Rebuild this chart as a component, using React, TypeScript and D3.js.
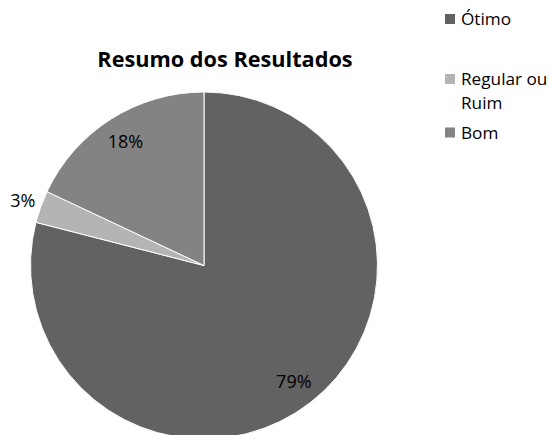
import { useEffect, useRef } from 'react';
import * as d3 from 'd3';

const categories = ['Ótimo', 'Regular ou Ruim', 'Bom'];
const values = [79, 3, 18];
const labels = ['79%', '3%', '18%'];
const legendLines = [['Ótimo'], ['Regular ou', 'Ruim'], ['Bom']];
const COLORS = ['#626262', '#b4b4b4', '#838383'];

const W = 555;
const H = 435;
const FONT = '"Open Sans", "Noto Sans", sans-serif';

export default function App() {
  const svgRef = useRef<SVGSVGElement>(null);

  useEffect(() => {
    if (!svgRef.current) return;
    const svg = d3.select(svgRef.current);
    svg.selectAll('*').remove();

    const cx = 204, cy = 265.5, R = 173.5;
    const g = svg.append('g').attr('transform', `translate(${cx},${cy})`);

    const data = categories.map((c, i) => ({ name: c, value: values[i], label: labels[i], color: COLORS[i] }));
    const pie = d3.pie<any>().sort(null).value(d => d.value);
    const arcs = pie(data);
    const arc = d3.arc<any>().innerRadius(0).outerRadius(R);

    g.selectAll('path.slice')
      .data(arcs)
      .enter().append('path')
      .attr('class', 'slice')
      .attr('d', arc)
      .attr('fill', d => d.data.color)
      .attr('stroke', '#ffffff')
      .attr('stroke-width', 1);

    // data labels: inside for big slices, outside for small ones
    g.selectAll('text.lbl')
      .data(arcs)
      .enter().append('text')
      .attr('class', 'lbl')
      .attr('transform', d => {
        const share = (d.endAngle - d.startAngle) / (2 * Math.PI);
        const r = share < 0.05 ? R * 1.11 : R * 0.845;
        const a = (d.startAngle + d.endAngle) / 2;
        return `translate(${Math.sin(a) * r},${-Math.cos(a) * r})`;
      })
      .attr('text-anchor', 'middle')
      .attr('dy', '0.35em')
      .attr('font-family', FONT)
      .attr('font-size', 18)
      .attr('fill', '#000')
      .text(d => d.data.label);

    // title
    svg.append('text')
      .attr('x', 225).attr('y', 67)
      .attr('text-anchor', 'middle')
      .attr('font-family', FONT)
      .attr('font-weight', 700)
      .attr('font-size', 21.7)
      .attr('fill', '#000')
      .text('Resumo dos Resultados');

    // legend
    const legendY = [19, 79, 132.5];
    const lg = svg.append('g');
    legendLines.forEach((lines, i) => {
      lg.append('rect')
        .attr('x', 445).attr('y', legendY[i] - 5)
        .attr('width', 10).attr('height', 10)
        .attr('fill', COLORS[i]);
      lines.forEach((t, j) => {
        lg.append('text')
          .attr('x', 461).attr('y', legendY[i] + j * 23.5)
          .attr('dy', '0.35em')
          .attr('font-family', FONT)
          .attr('font-size', 17.2)
          .attr('fill', '#000')
          .text(t);
      });
    });
  }, []);

  return (
    <div style={{ position: 'absolute', left: 0, top: 0 }}>
      <svg ref={svgRef} width={W} height={H} style={{ display: 'block', background: '#fff' }} />
    </div>
  );
}
